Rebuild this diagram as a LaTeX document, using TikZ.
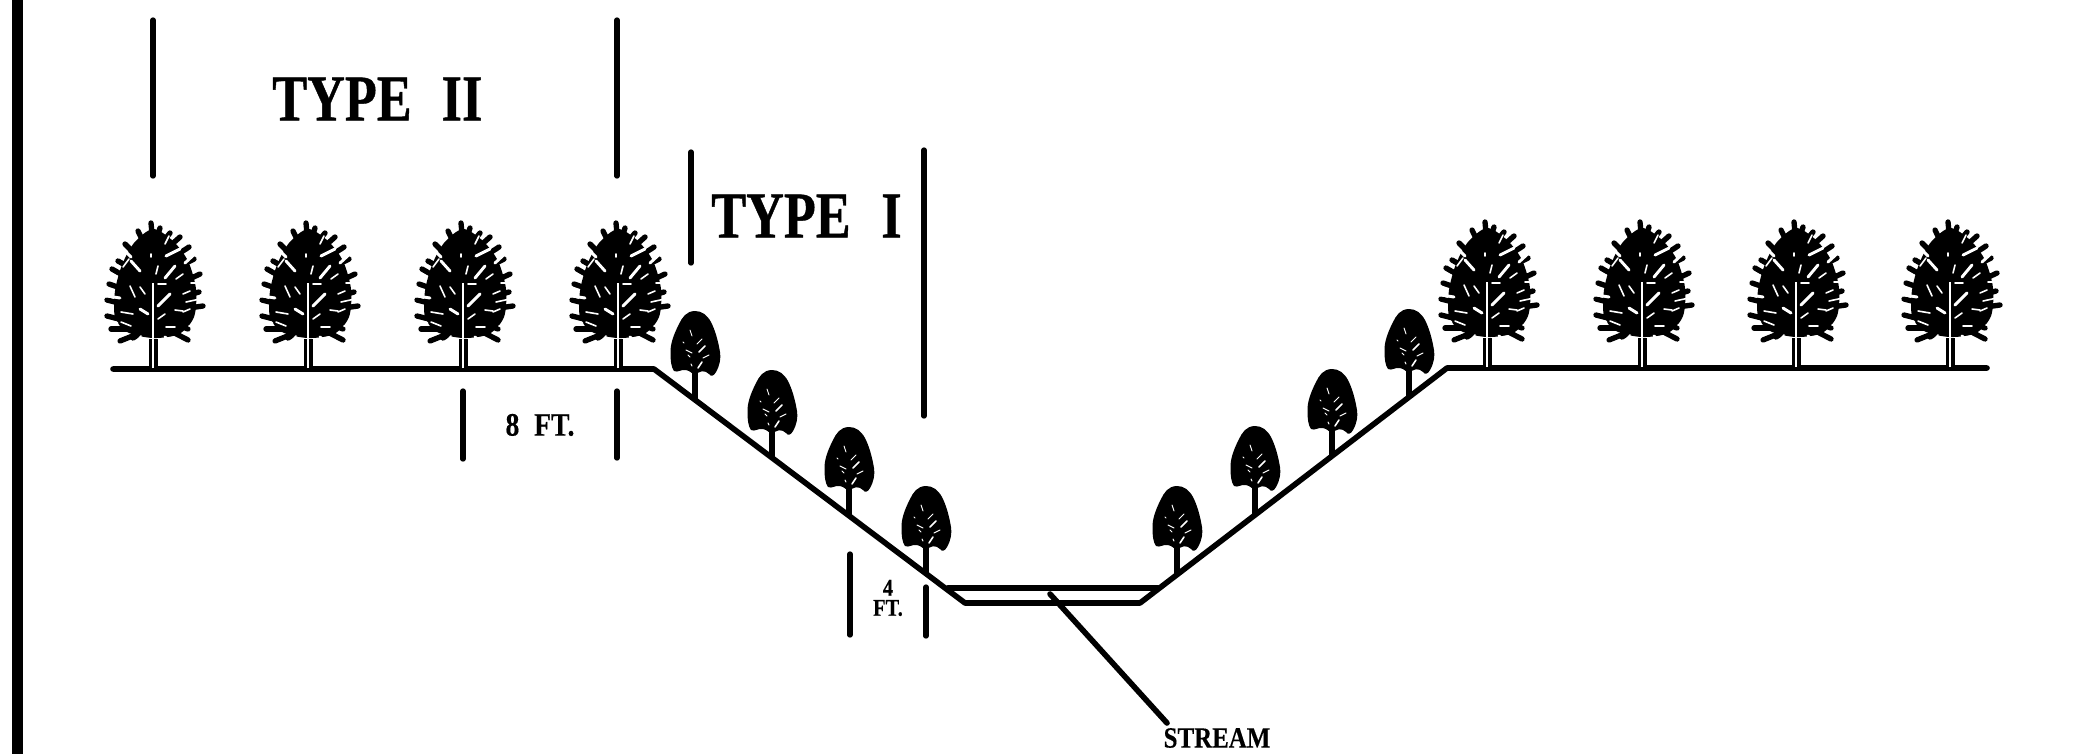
\documentclass[tikz,border=0pt]{standalone}
\usepackage{fontspec}
\setmainfont{Liberation Serif}[BoldFont={Liberation Serif Bold}]
\newfontfamily\headface{Liberation Serif Bold}[FakeStretch=0.8,FakeBold=0.6]
\newfontfamily\labelface{Liberation Serif Bold}[FakeStretch=0.85,FakeBold=0.3]
\begin{document}
\begin{tikzpicture}[x=0.75pt,y=-0.75pt,
  ink/.style={line width=4.2pt,line cap=round,line join=round,black},
  tick/.style={line width=4pt,line cap=round,black},
  heading/.style={inner sep=0pt,anchor=west,font=\headface\fontsize{49}{49}\selectfont},
  dimlabel/.style={inner sep=0pt,align=center,font=\labelface\fontsize{17}{19}\selectfont},
  twig/.style={line width=4pt,line cap=round,black},
  gap/.style={white,line width=1.2pt,line cap=round},
  gapwide/.style={white,line width=2.2pt,line cap=round},
  bigtree/.pic={
    % trunk
    \fill[black] (-4.5,0) rectangle (4.5,-30);
    % crown core
    \fill[black] plot[smooth cycle] coordinates {(0,-140) (-19,-126) (-31,-104) (-38,-78) (-38,-52) (-26,-37) (0,-31) (26,-35) (41,-52) (43,-80) (35,-108) (20,-128)};
    % branch tips that make the jagged outline
    \foreach \tx/\ty/\bx/\by in {-2/-146/0/-125,-15/-138/-4/-115,-28/-125/-8/-105,-35/-108/-12/-95,-41/-100/-15/-85,-44/-85/-15/-75,-46/-69/-18/-62,-46/-53/-15/-45,-42/-40/-15/-40,-33/-28/-8/-38,-20/-31/-5/-40,35/-29/10/-42,35/-40/8/-50,50/-63/15/-58,46/-77/15/-68,47/-95/15/-80,41/-110/12/-95,36/-122/10/-105,27/-132/8/-115,17/-136/4/-120,7/-141/2/-125}
      {\draw[twig] (\bx,\by) -- (\tx,\ty);}
    % notches cut into the outline
    \draw[gapwide] (-52,-74) -- (-33,-71);
    \draw[gapwide] (-52,-47) -- (-36,-46);
    \draw[gap] (52,-46) -- (36,-43);
    \draw[gap] (-50,-93) -- (-36,-93);
    \draw[gapwide] (-34,-124) -- (-22,-112);
    \draw[gapwide] (45,-118) -- (32,-106);
    \draw[gap] (52,-86) -- (38,-86);
    \draw[gap] (-20,-24) -- (-12,-33);
    \draw[gapwide] (20,-24) -- (12,-32);
    % pale split up the middle of the trunk
    \draw[white,line width=1.5pt] (0,-1) -- (0,-86);
    % openings between the branches
    \draw[gap] (12,-125) -- (16,-133);
    \draw[gap] (-2,-115) -- (-2,-112);
    \draw[gapwide] (-22,-108) -- (-13,-98);
    \draw[gapwide] (12,-91) -- (22,-103);
    \draw[gap] (3,-95) -- (5,-103);
    \draw[gapwide] (-13,-60) -- (-5,-55);
    \draw[gapwide] (5,-63) -- (17,-75);
    \draw[gap] (33,-67) -- (47,-70);
    \draw[gap] (5,-50) -- (12,-55);
    \draw[gap] (-32,-57) -- (-20,-55);
    \draw[gap] (-32,-47) -- (-22,-43);
    \draw[gap] (13,-42) -- (22,-42);
    \draw[gap] (30,-75) -- (37,-78);
    \draw[gap] (-13,-82) -- (-8,-75);
    \draw[gap] (-23,-83) -- (-18,-72);
    \draw[gap] (30,-57) -- (37,-60);
    \draw[gapwide] (13,-113) -- (27,-120);
    \draw[gap] (5,-85) -- (13,-85);
    \draw[gap] (22,-59) -- (30,-58);
    \draw[gap] (23,-90) -- (30,-95);
    \draw[gap] (-30,-102) -- (-24,-110);
  },
  smalltree/.pic={
    % trunk and solid crown
    \fill[black] (-3.3,1) rectangle (3.3,-30);
    \fill[black] (0,-87) .. controls (-9,-87) and (-13,-80) .. (-16,-74)
      .. controls (-20,-66) and (-25,-55) .. (-24.5,-45)
      .. controls (-24.5,-38) and (-24,-31) .. (-21,-27)
      .. controls (-17,-25) and (-14,-29) .. (-9,-28)
      .. controls (-5,-27) and (-3,-25) .. (0,-22)
      .. controls (4,-28) and (10,-28) .. (14,-24)
      .. controls (16,-21) and (19,-22) .. (21,-26)
      .. controls (25,-33) and (26,-40) .. (25,-46)
      .. controls (23,-58) and (20,-68) .. (16,-76)
      .. controls (12,-83) and (7,-87) .. (0,-87) -- cycle;
    % small highlights among the leaves
    \draw[gap,line width=.7pt] (-5,-68) -- (-3,-62);
    \draw[gap,line width=.7pt] (-12,-56) -- (-11,-55);
    \draw[gap,line width=.7pt] (2,-54) -- (7,-59);
    \draw[gap,line width=.7pt] (-9,-48) -- (-3,-45);
    \draw[gap] (4,-46) -- (10,-52);
    \draw[gap,line width=.8pt] (8,-40) -- (14,-43);
    \draw[gap] (3,-30) -- (7,-36);
    \draw[gap,line width=.7pt] (-7,-43) -- (-5,-41);
    \draw[gap,line width=.7pt] (-4,-34) -- (-3,-32);
  }]
\useasboundingbox (0,0) rectangle (2091,754);

% heavy rule down the left edge
\fill[black] (12,0) rectangle (23,754);

% stream profile: banks, bed and water surface
\coordinate (groundL) at (113,369);
\coordinate (crestL) at (654,369);
\coordinate (bedL) at (965,603);
\coordinate (bedR) at (1140,603);
\coordinate (crestR) at (1447,368);
\coordinate (groundR) at (1987,368);
\coordinate (waterL) at (948,588);
\coordinate (waterR) at (1158,588);
\draw[ink] (groundL) -- (crestL) -- (bedL) -- (bedR) -- (crestR) -- (groundR);
\draw[ink] (waterL) -- (waterR);

% upland trees
\foreach \tx/\ty in {153/369,308/369,463/369,618/369,1487/368,1642/368,1796/368,1950/368}
  {\pic at (\tx,\ty) {bigtree};}
% bank trees
\foreach \tx/\ty in {695/398,772/457,849/514,926/573,1177/573,1255/513,1332/456,1409/396}
  {\pic at (\tx,\ty) {smalltree};}

% zone limits
\coordinate (t2a) at (153,20);  \coordinate (t2b) at (153,176);
\coordinate (t2c) at (617,20);  \coordinate (t2d) at (617,176);
\coordinate (t1a) at (691,152); \coordinate (t1b) at (691,263);
\coordinate (t1c) at (924,150); \coordinate (t1d) at (924,416);
\draw[tick] (t2a) -- (t2b);
\draw[tick] (t2c) -- (t2d);
\draw[tick] (t1a) -- (t1b);
\draw[tick] (t1c) -- (t1d);

% dimension marks
\coordinate (d8a) at (463,391); \coordinate (d8b) at (463,459);
\coordinate (d8c) at (617,391); \coordinate (d8d) at (617,458);
\coordinate (d4a) at (850,554); \coordinate (d4b) at (850,635);
\coordinate (d4c) at (926,587); \coordinate (d4d) at (926,636);
\draw[tick] (d8a) -- (d8b);
\draw[tick] (d8c) -- (d8d);
\draw[tick] (d4a) -- (d4b);
\draw[tick] (d4c) -- (d4d);

% labels
\node[heading] (typetwo) at (272,99) {TYPE\hspace{0.46em}II};
\node[heading] (typeone) at (711,216) {TYPE\hspace{0.47em}I};
\node[dimlabel,font=\labelface\fontsize{24.5}{26}\selectfont] (eight) at (540,425) {8\hspace{0.45em}FT.};
\node[dimlabel,font=\labelface\fontsize{18}{15}\selectfont] (four) at (888,598) {4\\FT.};
\node[dimlabel,font=\labelface\fontsize{22}{22}\selectfont] (stream) at (1217,738) {STREAM};

% leader from the water to its label
\coordinate (leaderTop) at (1050,594);
\coordinate (leaderEnd) at (1167,723);
\draw[ink] (leaderTop) -- (leaderEnd);
\end{tikzpicture}
\end{document}
